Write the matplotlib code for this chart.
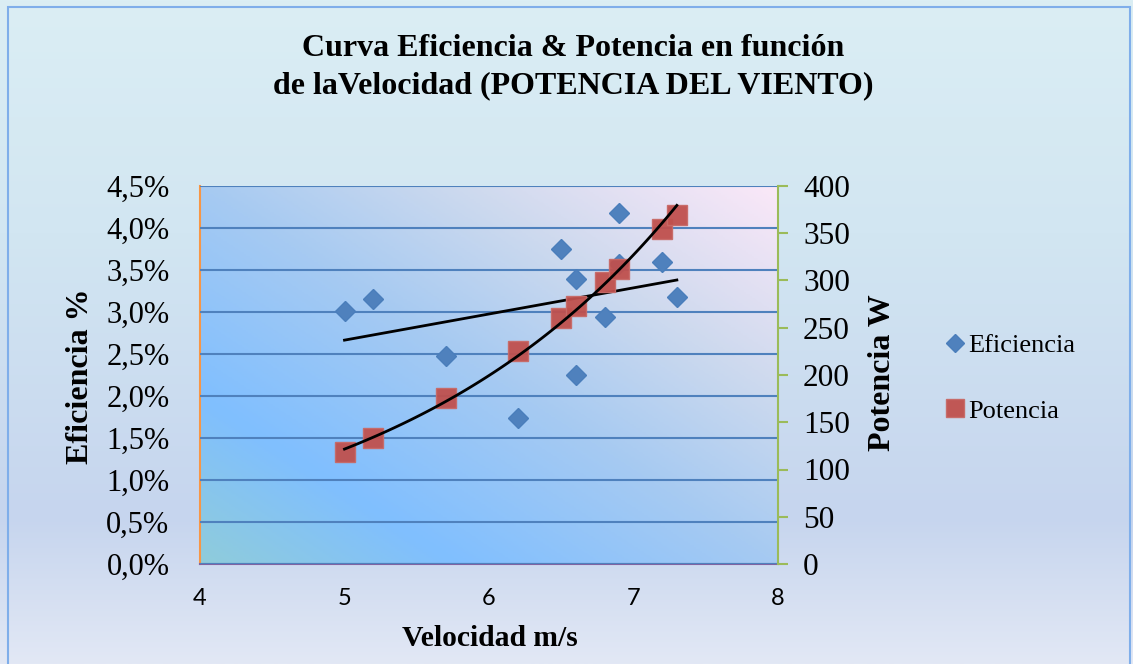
import matplotlib
matplotlib.use("Agg")
import matplotlib.pyplot as plt
import numpy as np
from matplotlib.colors import LinearSegmentedColormap
from matplotlib.patches import Rectangle
from matplotlib.ticker import FuncFormatter, MultipleLocator

# data
vel_ef = [5.0, 5.2, 5.7, 6.2, 6.5, 6.6, 6.6, 6.8, 6.9, 6.9, 7.2, 7.3]
eficiencia = [3.01, 3.15, 2.48, 1.74, 3.75, 3.39, 2.25, 2.94, 4.18, 3.57, 3.60, 3.18]
vel_pot = [5.0, 5.2, 5.7, 6.2, 6.5, 6.6, 6.8, 6.9, 7.2, 7.3]
potencia = [118, 133, 176, 225, 260, 273, 298, 312, 354, 369]

x_ticks = [4, 5, 6, 7, 8]
title = "Curva Eficiencia & Potencia en función\nde laVelocidad (POTENCIA DEL VIENTO)"

serif = "Liberation Serif"
blue = "#4F81BD"
red = "#C0504D"

W, H = 1133, 664
fig = plt.figure(figsize=(W / 100, H / 100), dpi=100)

# outer background gradient
bg = fig.add_axes([0, 0, 1, 1], zorder=-10)
bg_cmap = LinearSegmentedColormap.from_list(
    "bg", [(0, "#DBEEF4"), (0.35, "#D2E6F2"), (0.78, "#C6D5EE"), (1, "#E2E8F5")])
grad = np.linspace(0, 1, 256).reshape(-1, 1)
bg.imshow(grad, aspect="auto", cmap=bg_cmap, extent=[0, 1, 0, 1], origin="upper")
bg.add_patch(Rectangle((8 / W, -0.01), (1130 - 8) / W, 1 - 7 / H + 0.01,
                       fill=False, edgecolor="#7FAEEA", lw=1.5))
bg.set_xlim(0, 1)
bg.set_ylim(0, 1)
bg.axis("off")

ax = fig.add_axes([200 / W, 1 - 564 / H, (778 - 200) / W, (564 - 186) / H])
ax2 = ax.twinx()

# plot area diagonal gradient
nx, ny = 300, 200
u = np.linspace(0, 1, nx)[None, :]
v = np.linspace(0, 1, ny)[:, None]
s = (u * 0.5 + v * 0.5)
stops = [(0, "#8FCCDB"), (0.22, "#80BFFF"), (0.5, "#A6CAF2"), (0.72, "#CCD9EE"), (1, "#FBE8F8")]
pa_cmap = LinearSegmentedColormap.from_list("pa", stops)
ax.imshow(s, cmap=pa_cmap, aspect="auto", extent=[4, 8, 0, 4.5], origin="lower",
          zorder=0, vmin=0, vmax=1)

ax.set_xlim(4, 8)
ax.set_ylim(0, 4.5)
ax2.set_ylim(0, 400)
ax.yaxis.set_major_locator(MultipleLocator(0.5))
ax2.yaxis.set_major_locator(MultipleLocator(50))
ax.set_xticks(x_ticks)
ax.grid(axis="y", color=blue, lw=1.5, zorder=1)
ax.set_axisbelow(False)

ax.yaxis.set_major_formatter(FuncFormatter(lambda y, p: f"{y:.1f}%".replace(".", ",")))

ax.spines["top"].set_visible(False)
ax2.spines["top"].set_visible(False)
ax.spines["left"].set_color("#F79646")
ax.spines["left"].set_linewidth(1.5)
ax.spines["bottom"].set_color("#8064A2")
ax.spines["bottom"].set_linewidth(1.5)
ax.spines["right"].set_visible(False)
ax2.spines["left"].set_visible(False)
ax2.spines["bottom"].set_visible(False)
ax2.spines["right"].set_color("#9BBB59")
ax2.spines["right"].set_linewidth(1.5)

ax.tick_params(axis="y", length=0, pad=22, labelsize=22, labelfontfamily=serif)
ax.tick_params(axis="x", length=0, pad=17, labelsize=17, labelfontfamily="Lato")
ax2.tick_params(axis="y", length=7, width=1.5, color="#9BBB59", direction="out",
                pad=11, labelsize=22.5, labelfontfamily=serif)

# series
ax.plot(vel_ef, eficiencia, ls="none", marker="D", ms=10.5, color=blue,
        mec="#4A7EBB", zorder=3, label="Eficiencia")
ax2.plot(vel_pot, potencia, ls="none", marker="s", ms=14.5, color=red,
         mec="#C86A67", alpha=0.95, zorder=3, label="Potencia")

# trend lines
xe = np.linspace(min(vel_ef), max(vel_ef), 100)
m, b = np.polyfit(vel_ef, eficiencia, 1)
ax.plot(xe, m * xe + b, color="black", lw=2, zorder=4)

xp = np.linspace(min(vel_pot), max(vel_pot), 100)
k, c = np.polyfit(vel_pot, np.log(potencia), 1)
ax2.plot(xp, np.exp(c + k * xp), color="black", lw=2, zorder=4)
ax2.set_zorder(ax.get_zorder() + 1)
ax2.patch.set_visible(False)

# texts
fig.text(573 / W, 1 - 67 / H, title, ha="center", va="center", fontsize=23,
         fontweight="bold", family=serif, linespacing=1.4)
fig.text(80 / W, 1 - 376 / H, "Eficiencia %", rotation=90, ha="center", va="center",
         fontsize=23, fontweight="bold", family=serif)
fig.text(882 / W, 1 - 373 / H, "Potencia W", rotation=90, ha="center", va="center",
         fontsize=23, fontweight="bold", family=serif)
fig.text(490 / W, 1 - 639 / H, "Velocidad m/s", ha="center", va="center",
         fontsize=21.3, fontweight="bold", family=serif)

h1, l1 = ax.get_legend_handles_labels()
h2, l2 = ax2.get_legend_handles_labels()
fig.legend(h1 + h2, l1 + l2, loc="center left", bbox_to_anchor=(921 / W, 1 - 378 / H),
           frameon=False, prop={"family": serif, "size": 19}, labelspacing=1.6,
           handlelength=0.8, handletextpad=0.1, markerscale=0.85)

fig.savefig("out.png", dpi=100)
